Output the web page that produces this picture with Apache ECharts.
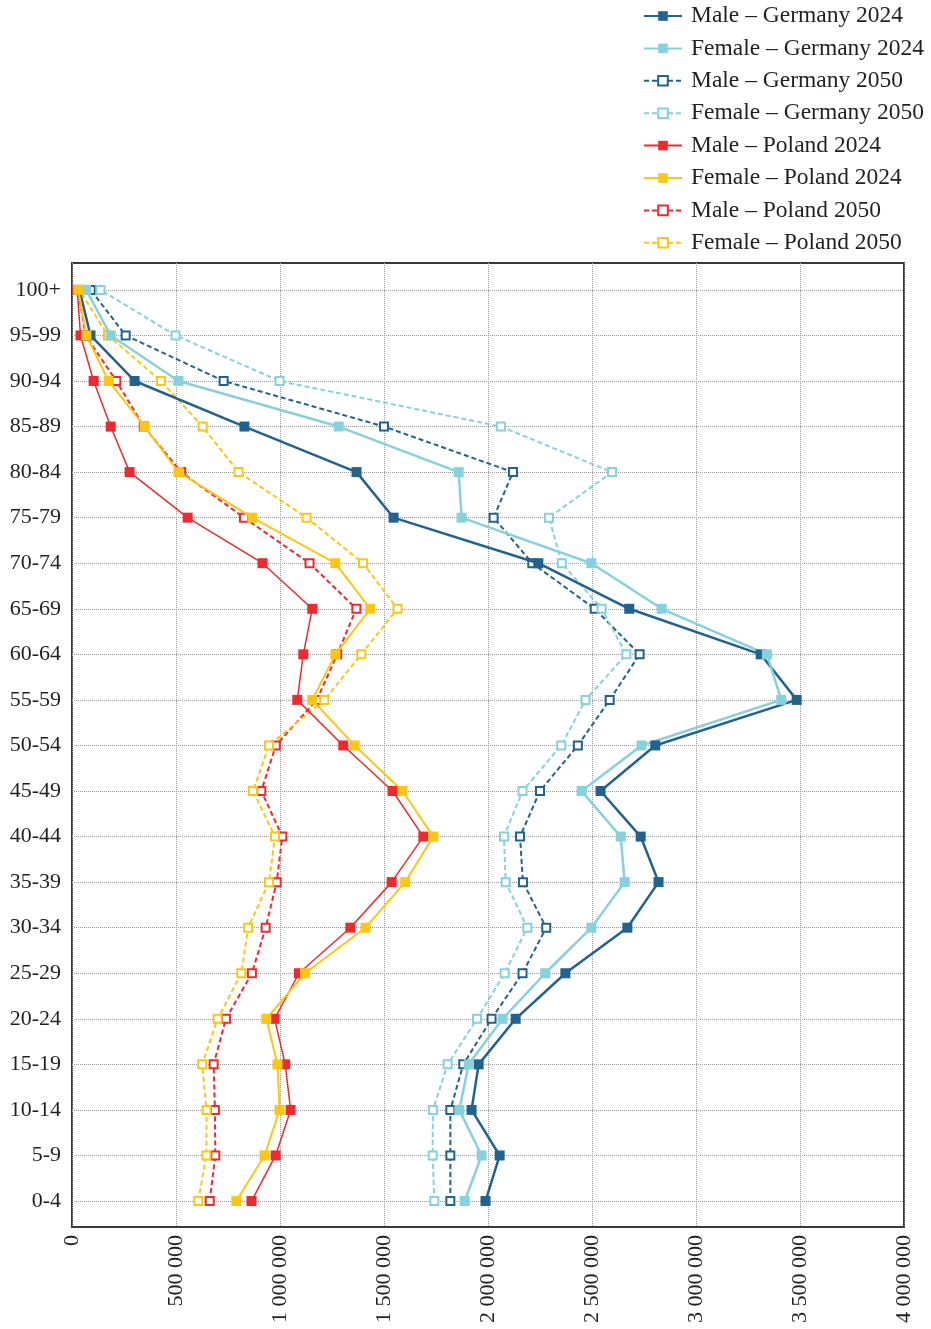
<!DOCTYPE html>
<html>
<head>
<meta charset="utf-8">
<title>Population by age group – Germany and Poland, 2024 and 2050</title>
<script src="https://cdn.jsdelivr.net/npm/echarts@6/dist/echarts.min.js"></script>
<style>
  html, body { margin: 0; padding: 0; background: #fff; }
  #chart { width: 931px; height: 1329px; }
</style>
</head>
<body>
<div id="chart"></div>
<script>
// Age groups, youngest first (bottom of the chart)
const ageGroups = ["0-4", "5-9", "10-14", "15-19", "20-24", "25-29", "30-34", "35-39",
  "40-44", "45-49", "50-54", "55-59", "60-64", "65-69", "70-74", "75-79", "80-84",
  "85-89", "90-94", "95-99", "100+"];

// Population counts per age group
const maleGermany2024 = [1988000, 2056000, 1921000, 1955000, 2133000, 2372000, 2670000, 2820000,
  2734000, 2541000, 2804000, 3484000, 3311000, 2679000, 2242000, 1546000, 1368000,
  829000, 301000, 89000, 36000];
const femaleGermany2024 = [1888000, 1969000, 1862000, 1907000, 2070000, 2275000, 2497000, 2657000,
  2638000, 2450000, 2738000, 3410000, 3341000, 2835000, 2497000, 1873000, 1859000,
  1282000, 512000, 186000, 68000];
const maleGermany2050 = [1819000, 1819000, 1819000, 1881000, 2017000, 2166000, 2280000, 2168000,
  2154000, 2250000, 2432000, 2585000, 2729000, 2513000, 2213000, 2027000, 2120000,
  1500000, 729000, 258000, 90000];
const femaleGermany2050 = [1742000, 1734000, 1735000, 1806000, 1947000, 2080000, 2189000, 2085000,
  2077000, 2166000, 2352000, 2469000, 2665000, 2546000, 2355000, 2293000, 2596000,
  2062000, 998000, 498000, 137000];
const malePoland2024 = [863000, 979000, 1051000, 1025000, 974000, 1091000, 1338000, 1537000,
  1689000, 1541000, 1304000, 1083000, 1112000, 1155000, 916000, 556000, 277000,
  186000, 104000, 41000, 25000];
const femalePoland2024 = [790000, 926000, 998000, 988000, 934000, 1120000, 1411000, 1602000,
  1737000, 1589000, 1359000, 1155000, 1266000, 1434000, 1266000, 867000, 512000,
  349000, 176000, 69000, 30000];
const malePoland2050 = [662000, 689000, 687000, 681000, 740000, 865000, 931000, 984000,
  1011000, 910000, 980000, 1177000, 1275000, 1367000, 1142000, 827000, 525000,
  345000, 213000, 65000, 30000];
const femalePoland2050 = [607000, 646000, 647000, 626000, 700000, 814000, 847000, 947000,
  976000, 870000, 947000, 1213000, 1391000, 1565000, 1399000, 1128000, 801000,
  628000, 428000, 173000, 35000];

const seriesNames = [
  "Male – Germany 2024", "Female – Germany 2024",
  "Male – Germany 2050", "Female – Germany 2050",
  "Male – Poland 2024", "Female – Poland 2024",
  "Male – Poland 2050", "Female – Poland 2050"
];

const DARK_BLUE = "#21628f";
const LIGHT_BLUE = "#86d1dc";
const RED = "#ed2a2f";
const YELLOW = "#fcc614";
const FONT = "'Liberation Serif', 'DejaVu Serif', serif";

const ageIndex = ageGroups.map((_, i) => i);

function toPoints(values) {
  return values.map((v, i) => [v, i]);
}

function solidSeries(name, values, color, width) {
  return {
    name, type: "line", data: toPoints(values),
    symbol: "rect", symbolSize: 10,
    lineStyle: { color, width, type: "solid" },
    itemStyle: { color },
    z: 4, animation: false
  };
}

function dashedSeries(name, values, color) {
  return {
    name, type: "line", data: toPoints(values),
    symbol: "emptyRect", symbolSize: 8,
    lineStyle: { color, width: 2, type: [5, 3] },
    itemStyle: { color, borderColor: color, borderWidth: 1.5 },
    z: 3, animation: false
  };
}

const groupedThousands = v => String(v).replace(/\B(?=(\d{3})+(?!\d))/g, " ");

const chart = echarts.init(document.getElementById("chart"), null, { renderer: "canvas" });

chart.setOption({
  backgroundColor: "#fff",
  textStyle: { fontFamily: FONT },
  legend: {
    orient: "vertical",
    left: 643, top: 4, padding: 0,
    itemWidth: 38, itemHeight: 12, itemGap: 8.4,
    textStyle: { fontFamily: FONT, fontSize: 23.5, color: "#231f20", lineHeight: 22, padding: [0, 0, 0, 4] },
    data: seriesNames
  },
  grid: {
    left: 72, right: 27, top: 263, bottom: 102,
    show: true, borderColor: "#3a3a3a", borderWidth: 2,
    containLabel: false
  },
  xAxis: {
    type: "value",
    min: 0, max: 4000000, interval: 500000,
    axisLine: { show: false },
    axisTick: { show: false },
    axisLabel: {
      rotate: 90, margin: 8,
      fontFamily: FONT, fontSize: 22, color: "#231f20",
      formatter: v => groupedThousands(v)
    },
    splitLine: { show: true, lineStyle: { color: "#999", type: "dotted", width: 1 } }
  },
  yAxis: {
    type: "value",
    min: -0.57, max: 20.59,
    axisLine: { show: false },
    axisTick: { show: false, customValues: ageIndex },
    axisLabel: {
      customValues: ageIndex, margin: 11,
      fontFamily: FONT, fontSize: 22, color: "#231f20",
      formatter: v => ageGroups[Math.round(v)]
    },
    splitLine: { show: true, lineStyle: { color: "#999", type: "dotted", width: 1 } }
  },
  series: [
    solidSeries(seriesNames[0], maleGermany2024, DARK_BLUE, 2.5),
    solidSeries(seriesNames[1], femaleGermany2024, LIGHT_BLUE, 2.5),
    dashedSeries(seriesNames[2], maleGermany2050, DARK_BLUE),
    dashedSeries(seriesNames[3], femaleGermany2050, LIGHT_BLUE),
    solidSeries(seriesNames[4], malePoland2024, RED, 1.5),
    solidSeries(seriesNames[5], femalePoland2024, YELLOW, 2),
    dashedSeries(seriesNames[6], malePoland2050, RED),
    dashedSeries(seriesNames[7], femalePoland2050, YELLOW)
  ]
});
</script>
</body>
</html>
